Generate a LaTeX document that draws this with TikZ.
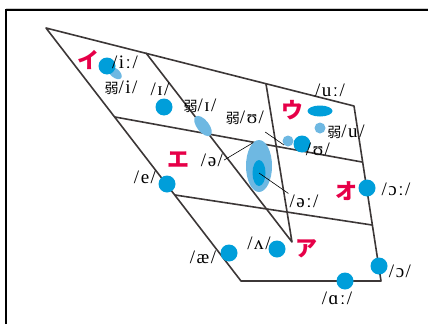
\documentclass[tikz,border=0pt]{standalone}
\usepackage{fontspec}
\setmainfont{Liberation Serif}
\newfontfamily\labfont[LetterSpace=8]{Liberation Serif}
\newfontfamily\cjk{Noto Sans CJK JP}
\usetikzlibrary{shapes.geometric}
\definecolor{dotblue}{RGB}{0,158,218}
\definecolor{lightblue}{RGB}{110,184,226}
\definecolor{kanared}{RGB}{230,0,72}
\definecolor{gridline}{RGB}{60,55,55}
\newcommand{\weak}{{\cjk\fontsize{14}{16}\selectfont 弱}}
\begin{document}
\begin{tikzpicture}[x=1pt,y=-1pt,
  grid/.style={draw=gridline,line width=1.6pt,line join=round},
  frame/.style={draw=black,line width=2pt},
  dot/.style={circle,fill=dotblue,inner sep=0pt,minimum size=17pt},
  sdot/.style={circle,fill=lightblue,inner sep=0pt,minimum size=11pt},
  ell/.style={ellipse,inner sep=0pt},
  lab/.style={inner sep=1pt,font=\labfont\fontsize{19}{21}\selectfont},
  kana/.style={inner sep=0pt,text=kanared,font=\cjk\bfseries\fontsize{22}{24}\selectfont},
  conn/.style={draw=black,line width=0.6pt}
]
\useasboundingbox (0,0) rectangle (428,324);
% frame
\draw[gray!40,line width=1pt] (6,8) -- (428,8);
\draw[frame] (6,324) -- (6,10) -- (428,10);
% grid coordinates
\coordinate (TL) at (46,28);
\coordinate (TR) at (354,106);
\coordinate (BR) at (381,281);
\coordinate (BL) at (241,281);
\coordinate (L1) at (115,117);
\coordinate (R1) at (362,162);
\coordinate (L2) at (175,195);
\coordinate (R2) at (372,225);
\coordinate (TA) at (146,53);
\coordinate (TB) at (266,84);
\coordinate (V) at (292,242);
\draw[grid] (TL) -- (TR) -- (BR) -- (BL) -- cycle;
\draw[grid] (L1) -- (R1);
\draw[grid] (L2) -- (R2);
\draw[grid] (TA) -- (V) -- (TB);
% light ellipses
\node[ell,fill=lightblue,minimum width=16pt,minimum height=9pt,rotate=-40] (iTail) at (115,73) {};
\node[ell,fill=lightblue,minimum width=24pt,minimum height=12pt,rotate=-52] (wI) at (203,126) {};
\node[ell,fill=lightblue,minimum width=26pt,minimum height=52pt] (bigE) at (259,166) {};
\node[ell,fill=dotblue,minimum width=13pt,minimum height=26pt] (inE) at (259,173) {};
\node[ell,fill=dotblue,minimum width=25pt,minimum height=11pt] (uL) at (320,111) {};
\node[sdot] (sU) at (288,141) {};
\node[sdot] (su) at (320,128) {};
% dots
\node[dot] (dI) at (107,66) {};
\node[dot] (dIs) at (164,107) {};
\node[dot] (dE) at (167,184) {};
\node[dot] (dU) at (302,144) {};
\node[dot] (dOL) at (367,188) {};
\node[dot] (dV) at (277,249) {};
\node[dot] (dAE) at (229,253) {};
\node[dot] (dO) at (379,266) {};
\node[dot] (dA) at (345,281) {};
% labels
\node[lab] (lI) at (125,62) {/iː/};
\node[lab] (lwi) at (121,88) {\weak/i/};
\node[lab] (lIs) at (160,89) {/ɪ/};
\node[lab] (lwI) at (200,106) {\weak/ɪ/};
\node[lab] (lwU) at (245,118) {\weak/ʊ/};
\node[lab] (lUL) at (330,90) {/uː/};
\node[lab] (lwu) at (346,132) {\weak/u/};
\node[lab] (lU) at (318,149) {/ʊ/};
\node[lab] (lSchwa) at (212,160) {/ə/};
\node[lab] (lSchwaL) at (304,201) {/əː/};
\node[lab] (lE) at (145,177) {/e/};
\node[lab] (lOL) at (396,189) {/ɔː/};
\node[lab] (lV) at (259,243) {/ʌ/};
\node[lab] (lAE) at (203,257) {/æ/};
\node[lab] (lO) at (400,271) {/ɔ/};
\node[lab] (lA) at (337,298) {/ɑː/};
% kana
\node[kana] (kI) at (88,60) {イ};
\node[kana] (kU) at (292,110) {ウ};
\node[kana] (kE) at (178,160) {エ};
\node[kana] (kO) at (346,191) {オ};
\node[kana] (kA) at (306,249) {ア};
% connectors
\draw[conn] (lSchwa.east) -- (bigE.105);
\draw[conn] (inE.center) -- (lSchwaL.north west);
\draw[conn] ([yshift=-6pt]lwU.south east) -- (sU.south west);
\end{tikzpicture}
\end{document}
